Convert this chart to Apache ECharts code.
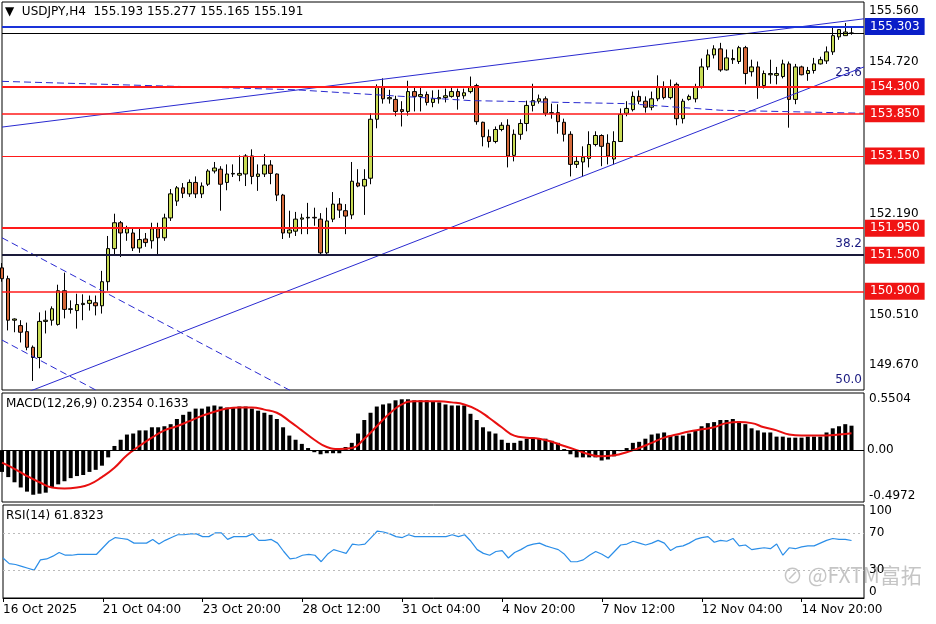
<!DOCTYPE html>
<html>
<head>
<meta charset="utf-8">
<script src="https://cdn.jsdelivr.net/npm/echarts@6/dist/echarts.min.js"></script>
<style>
  html, body { margin: 0; padding: 0; background: #fff; }
  #chart { width: 936px; height: 624px; }
</style>
</head>
<body>
<div id="chart"></div>
<script>
// candles: [open, close, low, high]
var candles = [
  [151.29,151.11,151.06,151.37],[151.11,150.42,150.25,151.16],[150.42,150.44,150.22,150.45],[150.33,150.22,150.05,150.42],
  [150.23,149.97,149.92,150.38],[149.97,149.80,149.41,150.00],[149.80,150.40,149.62,150.55],[150.40,150.42,150.20,150.58],
  [150.42,150.61,150.33,150.65],[150.35,150.91,150.33,151.01],[150.91,150.60,150.45,151.21],[150.60,150.61,150.53,150.75],
  [150.58,150.68,150.28,150.86],[150.68,150.70,150.42,150.85],[150.70,150.75,150.58,150.83],[150.71,150.66,150.50,150.83],
  [150.66,151.06,150.53,151.24],[151.06,151.61,150.91,151.82],[151.61,152.04,151.49,152.19],[152.04,151.87,151.47,152.07],
  [151.87,151.94,151.74,151.99],[151.87,151.62,151.57,151.95],[151.62,151.76,151.54,151.94],[151.77,151.71,151.64,151.87],
  [151.74,151.94,151.61,152.04],[151.94,151.79,151.52,152.04],[151.79,152.12,151.74,152.19],[152.12,152.52,152.07,152.60],
  [152.40,152.62,152.32,152.65],[152.62,152.53,152.45,152.70],[152.52,152.71,152.47,152.76],[152.71,152.52,152.45,152.81],
  [152.52,152.65,152.45,152.71],[152.68,152.90,152.65,152.93],[152.90,152.95,152.86,153.05],[152.93,152.68,152.24,152.98],
  [152.71,152.85,152.58,153.01],[152.85,152.86,152.80,153.01],[152.83,152.86,152.73,153.16],[152.85,153.15,152.65,153.18],
  [153.15,152.81,152.68,153.26],[152.81,152.85,152.57,153.01],[152.85,153.00,152.80,153.18],[153.00,152.86,152.68,153.08],
  [152.85,152.50,152.40,152.86],[152.50,151.87,151.77,152.52],[151.87,151.92,151.79,152.24],[151.90,152.10,151.82,152.22],
  [152.10,152.12,151.85,152.19],[152.12,152.13,151.85,152.37],[152.13,152.12,151.99,152.29],[152.10,151.54,151.51,152.20],
  [151.54,152.07,151.52,152.29],[152.10,152.35,152.05,152.55],[152.35,152.25,152.12,152.45],[152.24,152.15,151.85,152.35],
  [152.17,152.73,152.10,153.05],[152.70,152.65,152.63,152.93],[152.65,152.76,152.17,152.93],[152.78,153.76,152.68,153.86],
  [153.76,154.29,153.61,154.34],[154.29,154.10,154.02,154.44],[154.10,154.12,154.02,154.25],[154.09,153.89,153.81,154.15],
  [153.92,153.89,153.64,154.06],[153.89,154.22,153.82,154.40],[154.22,154.14,153.89,154.30],[154.14,154.17,153.89,154.29],
  [154.17,154.04,153.99,154.22],[154.04,154.10,153.96,154.24],[154.10,154.12,154.02,154.25],[154.12,154.15,154.04,154.27],
  [154.14,154.22,154.12,154.30],[154.22,154.14,153.92,154.27],[154.15,154.20,154.10,154.27],[154.22,154.30,154.19,154.47],
  [154.32,153.72,153.67,154.35],[153.71,153.47,153.31,153.72],[153.47,153.39,153.29,153.59],[153.39,153.59,153.36,153.64],
  [153.59,153.66,153.56,153.71],[153.66,153.15,152.96,153.76],[153.16,153.51,153.06,153.59],[153.51,153.69,153.42,153.76],
  [153.69,153.99,153.56,154.07],[153.99,154.07,153.89,154.35],[154.06,154.10,154.02,154.17],[154.10,153.86,153.81,154.14],
  [153.87,153.86,153.77,154.02],[153.87,153.72,153.52,154.01],[153.71,153.51,153.39,153.77],[153.51,153.01,152.81,153.56],
  [153.01,153.06,152.95,153.15],[153.05,153.13,152.81,153.31],[153.11,153.34,152.96,153.56],[153.34,153.49,153.31,153.56],
  [153.49,153.31,152.98,153.51],[153.36,153.15,153.01,153.51],[153.10,153.39,153.01,153.56],[153.39,153.84,153.39,153.94],
  [153.86,153.94,153.81,154.06],[153.92,154.14,153.89,154.22],[154.14,154.06,154.01,154.24],[154.06,153.96,153.87,154.14],
  [153.96,154.10,153.91,154.22],[154.10,154.29,154.06,154.49],[154.29,154.12,154.09,154.39],[154.12,154.30,154.09,154.42],
  [154.34,153.77,153.66,154.37],[153.77,154.06,153.69,154.10],[154.09,154.14,154.07,154.17],[154.10,154.29,154.04,154.35],
  [154.30,154.63,154.27,154.77],[154.63,154.83,154.58,154.92],[154.83,154.93,154.77,154.99],[154.93,154.58,154.55,155.03],
  [154.58,154.78,154.57,154.92],[154.75,154.77,154.68,154.92],[154.72,154.95,154.68,154.98],[154.95,154.52,154.34,154.98],
  [154.55,154.63,154.47,154.75],[154.63,154.30,154.10,154.72],[154.32,154.52,154.27,154.57],[154.50,154.52,154.35,154.75],
  [154.49,154.52,154.34,154.63],[154.47,154.68,154.44,154.75],[154.68,154.09,153.62,154.72],[154.09,154.63,154.01,154.68],
  [154.63,154.50,154.49,154.65],[154.52,154.57,154.40,154.63],[154.57,154.68,154.52,154.78],[154.68,154.75,154.67,154.80],
  [154.73,154.88,154.68,154.97],[154.88,155.15,154.83,155.30],[155.13,155.25,155.08,155.26],[155.15,155.21,155.15,155.36],
  [155.193,155.191,155.165,155.277]
];

var macdHist = [
  -0.21,-0.26,-0.31,-0.36,-0.40,-0.43,-0.42,-0.41,-0.36,-0.33,-0.30,-0.27,-0.25,-0.24,-0.21,-0.19,
  -0.15,-0.07,0.04,0.10,0.15,0.16,0.19,0.19,0.22,0.22,0.23,0.25,0.30,0.34,0.37,0.40,
  0.40,0.42,0.43,0.42,0.41,0.41,0.42,0.42,0.40,0.38,0.36,0.34,0.30,0.22,0.14,0.10,
  0.06,0.02,-0.02,-0.04,-0.03,-0.03,-0.03,0.03,0.07,0.16,0.29,0.36,0.42,0.44,0.45,0.48,
  0.49,0.49,0.48,0.48,0.48,0.47,0.46,0.44,0.43,0.43,0.43,0.35,0.29,0.22,0.18,0.16,
  0.10,0.07,0.07,0.09,0.11,0.12,0.11,0.11,0.09,0.07,0.01,-0.04,-0.07,-0.07,-0.07,-0.07,
  -0.10,-0.09,-0.06,-0.01,0.02,0.07,0.08,0.11,0.15,0.16,0.17,0.14,0.14,0.14,0.16,0.19,
  0.23,0.26,0.27,0.29,0.29,0.30,0.28,0.25,0.21,0.19,0.17,0.17,0.13,0.13,0.12,0.12,
  0.12,0.13,0.13,0.13,0.17,0.21,0.23,0.25,0.2354
];

// signal line sampled every second bar: [bar index, value]
var macdSignal = [
  [0,-0.12],[2,-0.18],[4,-0.25],[6,-0.31],[8,-0.36],[10,-0.37],[12,-0.36],[14,-0.33],[16,-0.26],[18,-0.17],
  [20,-0.05],[22,0.04],[24,0.12],[26,0.19],[28,0.23],[30,0.28],[32,0.33],[34,0.37],[36,0.40],[38,0.41],
  [40,0.41],[42,0.39],[44,0.36],[46,0.28],[48,0.19],[50,0.10],[52,0.03],[54,0.01],[56,0.02],[58,0.11],
  [60,0.23],[62,0.35],[64,0.44],[66,0.47],[68,0.47],[70,0.47],[72,0.46],[74,0.44],[76,0.39],[78,0.31],
  [80,0.22],[82,0.14],[84,0.12],[86,0.11],[88,0.08],[90,0.04],[92,0.00],[94,-0.04],[96,-0.06],[98,-0.05],
  [100,-0.02],[102,0.02],[104,0.07],[106,0.12],[108,0.15],[110,0.18],[112,0.20],[114,0.22],[116,0.26],[118,0.27],
  [120,0.26],[122,0.22],[124,0.19],[126,0.15],[128,0.14],[130,0.14],[132,0.14],[134,0.15],[136,0.1633]
];

var rsi = [
  43,37,36,34,32,30,41,42,45,49,46,46,47,47,47,47,54,61,65,64,63,59,59,59,63,58,62,65,68,68,69,69,
  66,66,70,70,63,66,66,66,69,62,62,63,59,50,42,43,46,47,46,39,47,52,50,48,58,57,58,65,72,71,69,66,
  65,68,66,66,66,66,66,66,68,66,68,61,52,48,46,50,51,43,49,52,56,58,59,56,54,52,47,39,39,41,46,50,
  47,43,50,57,58,61,59,57,59,62,59,51,55,56,59,63,65,66,60,62,61,64,56,57,52,53,54,53,58,46,54,53,
  55,56,56,59,62,64,63,63,61.83
];

var tickIdx = [0, 16, 32, 48, 64, 80, 96, 112, 128];
var tickText = ['16 Oct 2025', '21 Oct 04:00', '23 Oct 20:00', '28 Oct 12:00', '31 Oct 04:00',
                '4 Nov 20:00', '7 Nov 12:00', '12 Nov 04:00', '14 Nov 20:00'];

var priceTicks = [155.560, 154.720, 152.190, 150.510, 149.670];
var redLevels = [154.300, 153.850, 153.150, 151.950, 151.500, 150.900];
var redWidths = [2, 1.5, 1, 2, 2, 1.5];
var askLevel = 155.303;
var bidLevel = 155.191;

// trend lines: [bar index, price]
var upperChannel = [[0, 153.63], [138, 155.43]];
var lowerTrend = [[0, 149.06], [138, 154.63]];
var dashedMid = [[0, 154.39], [47, 154.25], [75, 154.07], [100, 154.02], [115, 153.91], [138, 153.86]];
var dashedDownA = [[0, 151.79], [60, 148.49]];
var dashedDownB = [[0, 150.09], [30, 148.43]];

var NBARS = 139;
var cats = [];
for (var i = 0; i < NBARS; i++) cats.push('');
tickIdx.forEach(function (k, j) { cats[k] = tickText[j]; });

var FONT = 'DejaVu Sans';
var chart = echarts.init(document.getElementById('chart'));

function axisMark(v, txt, vAlign) {
    return {
        yAxis: v,
        lineStyle: { color: 'rgba(0,0,0,0)', width: 1 },
        label: {
            show: true, position: 'end', distance: 1, formatter: txt,
            color: '#000', padding: [0, 4], fontSize: 12, fontFamily: FONT,
            verticalAlign: vAlign || 'middle'
        }
    };
}

var mainMarks = [];
priceTicks.forEach(function (v) { mainMarks.push(axisMark(v, v.toFixed(3))); });
redLevels.forEach(function (v, j) {
    mainMarks.push({
        yAxis: v,
        lineStyle: { color: v === 151.5 ? '#1a1a3a' : '#ff1a1a', width: redWidths[j], type: 'solid' },
        label: {
            show: true, position: 'end', distance: 1, formatter: v.toFixed(3),
            color: '#fff', backgroundColor: '#f01414', padding: [3, 5, 2, 5],
            fontSize: 12, fontFamily: FONT
        }
    });
});
mainMarks.push({
    yAxis: askLevel,
    lineStyle: { color: '#1a33d9', width: 2, type: 'solid' },
    label: { show: true, position: 'end', distance: 1, formatter: askLevel.toFixed(3),
        color: '#fff', backgroundColor: '#0a1ec8', padding: [3, 5, 2, 5], fontSize: 12, fontFamily: FONT }
});
mainMarks.push({
    yAxis: bidLevel,
    lineStyle: { color: '#000', width: 1, type: 'solid' },
    label: { show: false }
});

function trend(data, dashed, name) {
    return {
        name: name, type: 'line', xAxisIndex: 0, yAxisIndex: 0, data: data,
        symbol: 'none', silent: true, clip: true,
        lineStyle: { color: '#2a2ad0', width: 1, type: dashed ? [7, 4] : 'solid' }
    };
}

var option = {
    animation: false,
    backgroundColor: '#fff',
    textStyle: { fontFamily: FONT },
    grid: [
        { left: 2, top: 2, width: 862, height: 388, show: true, borderColor: '#000', borderWidth: 1 },
        { left: 2, top: 393, width: 862, height: 109, show: true, borderColor: '#000', borderWidth: 1 },
        { left: 2, top: 505, width: 862, height: 93, show: true, borderColor: '#000', borderWidth: 1 }
    ],
    xAxis: [0, 1, 2].map(function (g) {
        return {
            type: 'category', gridIndex: g, data: cats, boundaryGap: false,
            axisLine: { show: g === 2, lineStyle: { color: '#000' } },
            axisTick: { show: g === 2, length: 4, interval: function (i) { return tickIdx.indexOf(i) >= 0; }, lineStyle: { color: '#000' } },
            axisLabel: {
                show: g === 2, interval: function (i) { return tickIdx.indexOf(i) >= 0; },
                align: 'left', margin: 6, color: '#000', fontSize: 12, fontFamily: FONT
            },
            splitLine: { show: false }
        };
    }),
    yAxis: [
        { type: 'value', gridIndex: 0, min: 149.26, max: 155.709, position: 'right', show: false },
        { type: 'value', gridIndex: 1, min: -0.5, max: 0.5504, position: 'right', show: false },
        { type: 'value', gridIndex: 2, min: 0, max: 100, position: 'right', show: false }
    ],
    series: [
        {
            name: 'USDJPY', type: 'candlestick', xAxisIndex: 0, yAxisIndex: 0,
            data: candles, barWidth: 4,
            itemStyle: { color: '#c8dc55', color0: '#d4693a', borderColor: '#000', borderColor0: '#000', borderWidth: 1 },
            markLine: { silent: true, symbol: 'none', animation: false, data: mainMarks }
        },
        trend(upperChannel, false, 'upper'),
        trend(lowerTrend, false, 'lower'),
        trend(dashedMid, true, 'mid'),
        trend(dashedDownA, true, 'downA'),
        trend(dashedDownB, true, 'downB'),
        {
            name: 'MACD', type: 'bar', xAxisIndex: 1, yAxisIndex: 1, data: macdHist,
            barWidth: 4, itemStyle: { color: '#000' },
            markLine: {
                silent: true, symbol: 'none',
                data: [
                    axisMark(0.5504, '0.5504', 'top'),
                    { yAxis: 0, lineStyle: { color: '#000', width: 1, type: 'solid' },
                      label: { show: true, position: 'end', distance: 1, formatter: '0.00', color: '#000',
                               fontSize: 12, fontFamily: FONT, padding: [0, 2] } },
                    axisMark(-0.4972, '-0.4972', 'bottom')
                ]
            }
        },
        {
            name: 'Signal', type: 'line', xAxisIndex: 1, yAxisIndex: 1, data: macdSignal,
            symbol: 'none', smooth: true, lineStyle: { color: '#e81010', width: 2 }
        },
        {
            name: 'RSI', type: 'line', xAxisIndex: 2, yAxisIndex: 2, data: rsi,
            symbol: 'none', lineStyle: { color: '#2b8ee8', width: 1.2 },
            markLine: {
                silent: true, symbol: 'none',
                data: [
                    axisMark(100, '100', 'top'),
                    { yAxis: 70, lineStyle: { color: '#bbb', width: 1, type: [2, 3] },
                      label: { show: true, position: 'end', distance: 1, formatter: '70', fontSize: 12, fontFamily: FONT, color: '#000', padding: [0, 4] } },
                    { yAxis: 30, lineStyle: { color: '#bbb', width: 1, type: [2, 3] },
                      label: { show: true, position: 'end', distance: 1, formatter: '30', fontSize: 12, fontFamily: FONT, color: '#000', padding: [0, 4] } },
                    axisMark(0, '0', 'bottom')
                ]
            }
        }
    ],
    graphic: [
        { type: 'text', left: 5, top: 6, style: { text: '▼  USDJPY,H4  155.193 155.277 155.165 155.191', fontSize: 12, fontFamily: FONT, fill: '#000' } },
        { type: 'text', left: 6, top: 398, style: { text: 'MACD(12,26,9) 0.2354 0.1633', fontSize: 12, fontFamily: FONT, fill: '#000' } },
        { type: 'text', left: 6, top: 510, style: { text: 'RSI(14) 61.8323', fontSize: 12, fontFamily: FONT, fill: '#000' } },
        { type: 'text', right: 74, top: 67, style: { text: '23.6', fontSize: 12, fontFamily: FONT, fill: '#1a1a80' } },
        { type: 'text', right: 74, top: 238, style: { text: '38.2', fontSize: 12, fontFamily: FONT, fill: '#1a1a80' } },
        { type: 'text', right: 74, top: 374, style: { text: '50.0', fontSize: 12, fontFamily: FONT, fill: '#1a1a80' } },
        { type: 'text', left: 782, top: 565, style: { text: '⊘ @FXTM富拓', fontSize: 21, fontFamily: 'Noto Sans CJK SC', fill: 'rgba(150,150,150,0.55)' } }
    ]
};

chart.setOption(option);
</script>
</body>
</html>
